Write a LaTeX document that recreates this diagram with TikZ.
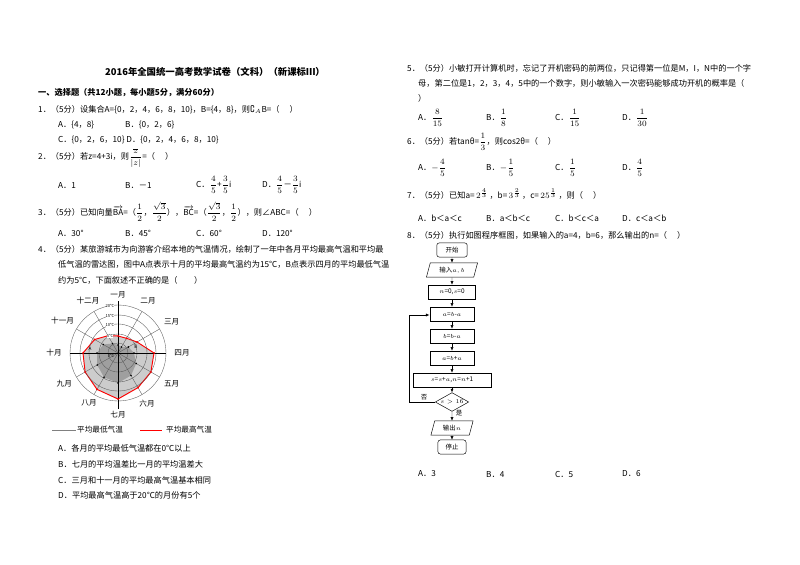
\documentclass[tikz,border=0pt]{standalone}
\usepackage{fontspec}
\usepackage{amsmath,amssymb}
\setmainfont{Noto Sans CJK SC}
\usetikzlibrary{shapes.geometric,arrows.meta}
\begin{document}
\begin{tikzpicture}[x=0.03cm,y=-0.03cm,
  t/.style={anchor=west,inner sep=0,font=\fontsize{7}{8}\selectfont},
  fc/.style={draw,minimum height=12,font=\fontsize{5.5}{6}\selectfont\itshape,inner sep=1},
  fl/.style={-{Latex[length=3pt,width=2.5pt]}},
  ml/.style={font=\fontsize{6.5}{7}\selectfont,inner sep=0}]
\useasboundingbox (0,0) rectangle (800,565);
\fill[white] (0,0) rectangle (800,565);
\node[inner sep=0,font=\fontsize{8}{9}\selectfont\bfseries] (title) at (215,72) {2016年全国统一高考数学试卷（文科）（新课标Ⅲ）};
\node[t,font=\fontsize{7}{8}\selectfont\bfseries] (sec) at (38,93) {一、选择题（共12小题，每小题5分，满分60分）};
\node[t] (q1) at (38,110) {1．（5分）设集合A=\{0，2，4，6，8，10\}，B=\{4，8\}，则$\complement_A$B=（\quad\ ）};
\node[t] (q1a) at (58,125) {A．\{4，8\}};
\node[t] (q1b) at (125,125) {B．\{0，2，6\}};
\node[t] (q1c) at (58,140) {C．\{0，2，6，10\}\ D．\{0，2，4，6，8，10\}};
\node[t] (q2) at (38,158) {2．（5分）若z=4+3i，则$\dfrac{\overline{z}}{|z|}$=（\quad\ ）};
\node[t] (q2a) at (58,185) {A．1};
\node[t] (q2b) at (125,185) {B．－1};
\node[t] (q2c) at (196,185) {C．$\dfrac{4}{5}$+$\dfrac{3}{5}$i};
\node[t] (q2d) at (262,185) {D．$\dfrac{4}{5}$－$\dfrac{3}{5}$i};
\node[t] (q3) at (38,212) {3．（5分）已知向量$\overrightarrow{\mathrm{BA}}$=（$\dfrac{1}{2}$，$\dfrac{\sqrt3}{2}$），$\overrightarrow{\mathrm{BC}}$=（$\dfrac{\sqrt3}{2}$，$\dfrac{1}{2}$），则∠ABC=（\quad\ ）};
\node[t] (q3a) at (58,233) {A．30°};
\node[t] (q3b) at (125,233) {B．45°};
\node[t] (q3c) at (196,233) {C．60°};
\node[t] (q3d) at (262,233) {D．120°};
\node[t] (q4) at (38,249) {4．（5分）某旅游城市为向游客介绍本地的气温情况，绘制了一年中各月平均最高气温和平均最};
\node[t] (q4b) at (58,264) {低气温的雷达图，图中A点表示十月的平均最高气温约为15℃，B点表示四月的平均最低气温};
\node[t] (q4c) at (58,280) {约为5℃，下面叙述不正确的是（\qquad ）};
% radar
\begin{scope}[shift={(118,353)},yscale=-1]
\fill[gray!40,draw=red,thick] (90:17) -- (60:17) -- (30:22) -- (0:36) -- (-30:38) -- (-60:40) -- (-90:46) -- (-120:42) -- (-150:38) -- (180:35) -- (150:27) -- (120:20) -- cycle;
\fill[gray!75] (90:8) -- (60:7) -- (30:12) -- (0:16) -- (-30:21) -- (-60:26) -- (-90:30) -- (-120:28) -- (-150:24) -- (180:21) -- (150:17) -- (120:11) -- cycle;
\foreach \r in {10,19,29,38,48} \draw[gray!70!black,line width=0.3pt] (0,0) circle (\r);
\foreach \a in {0,30,...,330} \draw[gray!70!black,line width=0.3pt] (0,0) -- (\a:48);
\draw[line width=0.5pt] (0,-56) -- (0,52);
\draw[line width=0.5pt] (-48,0) -- (48,0);
\foreach \a/\r in {90/17,60/17,30/22,0/36,-30/38,-60/40,-90/46,-120/42,-150/38,180/35,150/27,120/20} \fill[red] (\a:\r) circle (1);
\foreach \a/\r in {90/8,60/7,30/12,0/16,-30/21,-60/26,-90/30,-120/28,-150/24,180/21,150/17,120/11} \fill[black] (\a:\r) circle (0.9);
\foreach \r/\l in {47/20℃,37/15℃,28/10℃,17/5℃} \node[font=\fontsize{3.5}{4}\selectfont,inner sep=0,fill=white] at (-8,\r) {\l};
\node[font=\fontsize{3.5}{4}\selectfont,inner sep=0] (zero) at (-7,-3) {0℃};
\node[font=\fontsize{4}{4}\selectfont\itshape,inner sep=0] (ptA) at (-28,4) {A};
\node[font=\fontsize{4}{4}\selectfont\itshape,inner sep=0] (ptB) at (18,6) {B};
\node[ml] (m1) at (90:58) {一月};
\node[ml] (m2) at (60:60) {二月};
\node[ml] (m3) at (30:62) {三月};
\node[ml] (m4) at (0:64) {四月};
\node[ml] (m5) at (-30:62) {五月};
\node[ml] (m6) at (-60:58) {六月};
\node[ml] (m7) at (-90:62) {七月};
\node[ml] (m8) at (-120:58) {八月};
\node[ml] (m9) at (-150:62) {九月};
\node[ml] (m10) at (180:64) {十月};
\node[ml] (m11) at (150:64) {十一月};
\node[ml] (m12) at (120:60) {十二月};
\end{scope}
\coordinate (l1a) at (52,430); \coordinate (l1b) at (76,430);
\draw[gray] (l1a) -- (l1b);
\node[t,font=\fontsize{6.5}{7}\selectfont] (lg1) at (77,430) {平均最低气温};
\coordinate (l2a) at (140,430); \coordinate (l2b) at (162,430);
\draw[red] (l2a) -- (l2b);
\node[t,font=\fontsize{6.5}{7}\selectfont] (lg2) at (166,430) {平均最高气温};
\node[t] (q4A) at (58,448) {A．各月的平均最低气温都在0℃以上};
\node[t] (q4B) at (58,464) {B．七月的平均温差比一月的平均温差大};
\node[t] (q4C) at (58,480) {C．三月和十一月的平均最高气温基本相同};
\node[t] (q4D) at (58,495) {D．平均最高气温高于20℃的月份有5个};
% right column
\node[t] (q5) at (407,68) {5．（5分）小敏打开计算机时，忘记了开机密码的前两位，只记得第一位是M，I，N中的一个字};
\node[t] (q5b) at (418,83) {母，第二位是1，2，3，4，5中的一个数字，则小敏输入一次密码能够成功开机的概率是（};
\node[t] (q5c) at (418,98) {）};
\node[t] (q5A) at (418,118) {A．$\dfrac{8}{15}$};
\node[t] (q5B) at (486,118) {B．$\dfrac{1}{8}$};
\node[t] (q5C) at (555,118) {C．$\dfrac{1}{15}$};
\node[t] (q5D) at (622,118) {D．$\dfrac{1}{30}$};
\node[t] (q6) at (407,142) {6．（5分）若tanθ=$\dfrac{1}{3}$，则cos2θ=（\quad\ ）};
\node[t] (q6A) at (418,168) {A．$-\dfrac{4}{5}$};
\node[t] (q6B) at (486,168) {B．$-\dfrac{1}{5}$};
\node[t] (q6C) at (555,168) {C．$\dfrac{1}{5}$};
\node[t] (q6D) at (622,168) {D．$\dfrac{4}{5}$};
\node[t] (q7) at (407,194) {7．（5分）已知a=\,$2^{\frac{4}{3}}$\,，b=\,$3^{\frac{2}{3}}$\,，c=\,$25^{\frac{1}{3}}$\,，则（\quad\ ）};
\node[t] (q7A) at (418,218) {A．b＜a＜c};
\node[t] (q7B) at (486,218) {B．a＜b＜c};
\node[t] (q7C) at (555,218) {C．b＜c＜a};
\node[t] (q7D) at (622,218) {D．c＜a＜b};
\node[t] (q8) at (407,235) {8．（5分）执行如图程序框图，如果输入的a=4，b=6，那么输出的n=（\quad\ ）};
% flowchart
\node[fc,rounded corners=2,minimum width=26,font=\fontsize{5.5}{6}\selectfont] (start) at (452,250) {开始};
\node[fc,trapezium,trapezium left angle=75,trapezium right angle=105,minimum width=30,font=\fontsize{5.5}{6}\selectfont] (inp) at (452,270) {输入$a,b$};
\node[fc,minimum width=40] (init) at (452,292) {$n$=0,$s$=0};
\node[fc,minimum width=38] (s1) at (452,314) {$a$=$b$-$a$};
\node[fc,minimum width=38] (s2) at (452,336) {$b$=$b$-$a$};
\node[fc,minimum width=38] (s3) at (452,358) {$a$=$b$+$a$};
\node[fc,minimum width=67] (s4) at (452,380) {$s$=$s$+$a$,$n$=$n$+1};
\node[fc,diamond,aspect=2.4,minimum height=16,inner sep=0] (dec) at (452,402) {$s>16$};
\node[fc,trapezium,trapezium left angle=75,trapezium right angle=105,minimum width=28,font=\fontsize{5.5}{6}\selectfont] (out) at (452,428) {输出$n$};
\node[fc,rounded corners=2,minimum width=24,font=\fontsize{5.5}{6}\selectfont] (stop) at (452,447) {停止};
\draw[fl] (start) -- (inp);
\draw[fl] (inp) -- (init);
\draw[fl] (init) -- (s1);
\draw[fl] (s1) -- (s2);
\draw[fl] (s2) -- (s3);
\draw[fl] (s3) -- (s4);
\draw[fl] (s4) -- (dec);
\draw[fl] (dec) -- (out);
\draw[fl] (out) -- (stop);
\coordinate (lp1) at (409,402); \coordinate (lp2) at (409,315);
\draw[fl] (dec.west) -- (lp1) -- (lp2) -- (s1.west |- lp2);
\node[font=\fontsize{5.5}{6}\selectfont,inner sep=0] (no) at (424,397) {否};
\node[font=\fontsize{5.5}{6}\selectfont,inner sep=0] (yes) at (459,413) {是};
\node[t] (q8A) at (418,474) {A．3};
\node[t] (q8B) at (486,474) {B．4};
\node[t] (q8C) at (555,474) {C．5};
\node[t] (q8D) at (622,474) {D．6};
\end{tikzpicture}
\end{document}
